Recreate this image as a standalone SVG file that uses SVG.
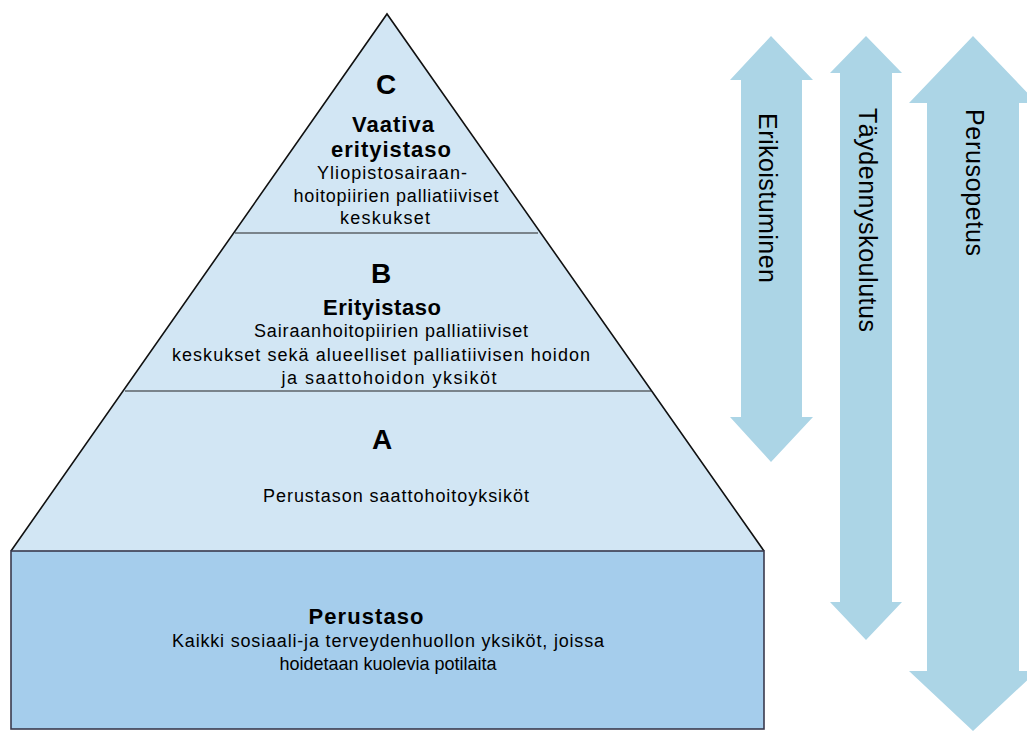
<svg xmlns="http://www.w3.org/2000/svg" width="1027" height="731" viewBox="0 0 1027 731">
<style>
.tier{fill:#d2e6f4;stroke:none}
.side{fill:none;stroke:#111;stroke-width:1.6}
.div{stroke:#222;stroke-width:1.2}
.base{fill:#a5cdec;stroke:#3a3a4e;stroke-width:1.6}
.arrow{fill:#acd5e6;stroke:none}
text{font-family:"Liberation Sans",Arial,sans-serif;fill:#000;text-anchor:middle}
.big{font-size:28px;font-weight:bold}
.head{font-size:22px;font-weight:bold}
.body{font-size:18px}
.vert{font-size:25px;text-anchor:start}
</style>
<rect width="1027" height="731" fill="#fff"/>
<g id="tier-c">
<polygon class="tier" points="387,14 233.5,233 540.5,233"/>
<text class="big" x="386" y="94">C</text>
<text class="head" x="393" y="132" textLength="82" lengthAdjust="spacing">Vaativa</text>
<text class="head" x="391" y="157" textLength="120" lengthAdjust="spacing">erityistaso</text>
<text class="body" x="392" y="179" textLength="150" lengthAdjust="spacing">Yliopistosairaan-</text>
<text class="body" x="396" y="202" textLength="205" lengthAdjust="spacing">hoitopiirien palliatiiviset</text>
<text class="body" x="385" y="224" textLength="90" lengthAdjust="spacing">keskukset</text>
</g>
<g id="tier-b">
<polygon class="tier" points="233.5,233 540.5,233 652.7,391 122.7,391"/>
<text class="big" x="381" y="283">B</text>
<text class="head" x="382" y="315" textLength="118" lengthAdjust="spacing">Erityistaso</text>
<text class="body" x="391" y="337" textLength="274" lengthAdjust="spacing">Sairaanhoitopiirien palliatiiviset</text>
<text class="body" x="381" y="361" textLength="418" lengthAdjust="spacing">keskukset sekä alueelliset palliatiivisen hoidon</text>
<text class="body" x="389" y="384" textLength="215" lengthAdjust="spacing">ja saattohoidon yksiköt</text>
</g>
<g id="tier-a">
<polygon class="tier" points="122.7,391 652.7,391 764,551 11,551"/>
<text class="big" x="382" y="449">A</text>
<text class="body" x="396" y="502" textLength="266" lengthAdjust="spacing">Perustason saattohoitoyksiköt</text>
</g>
<g id="pyramid-outline">
<polyline class="side" points="11,551 387,14 764,551"/>
<line class="div" x1="235" y1="233" x2="538" y2="233"/>
<line class="div" x1="125" y1="391" x2="652" y2="391"/>
</g>
<g id="perustaso">
<rect class="base" x="11" y="551" width="753" height="178"/>
<text class="head" x="366" y="624" textLength="115" lengthAdjust="spacing">Perustaso</text>
<text class="body" x="388" y="647" textLength="432" lengthAdjust="spacing">Kaikki sosiaali-ja terveydenhuollon yksiköt, joissa</text>
<text class="body" x="388" y="670" textLength="217" lengthAdjust="spacing">hoidetaan kuolevia potilaita</text>
</g>
<g id="connectors">
<g id="arrow-erikoistuminen">
<polygon class="arrow" points="771,36 813,80 802,80 802,417 813,417 771,462 730,417 741,417 741,80 730,80"/>
<text class="vert" transform="translate(759,113) rotate(90)" textLength="170" lengthAdjust="spacing">Erikoistuminen</text>
</g>
<g id="arrow-taydennyskoulutus">
<polygon class="arrow" points="866,36 902,73 892,73 892,602 902,602 866,640 830,602 840,602 840,73 830,73"/>
<text class="vert" transform="translate(859,108) rotate(90)" textLength="224" lengthAdjust="spacing">Täydennyskoulutus</text>
</g>
<g id="arrow-perusopetus">
<polygon class="arrow" points="973,36 1037,103 1019,103 1019,671 1037,671 973,731 909,671 927,671 927,103 909,103"/>
<text class="vert" transform="translate(966,109) rotate(90)" textLength="147" lengthAdjust="spacing">Perusopetus</text>
</g>
</g>
</svg>
